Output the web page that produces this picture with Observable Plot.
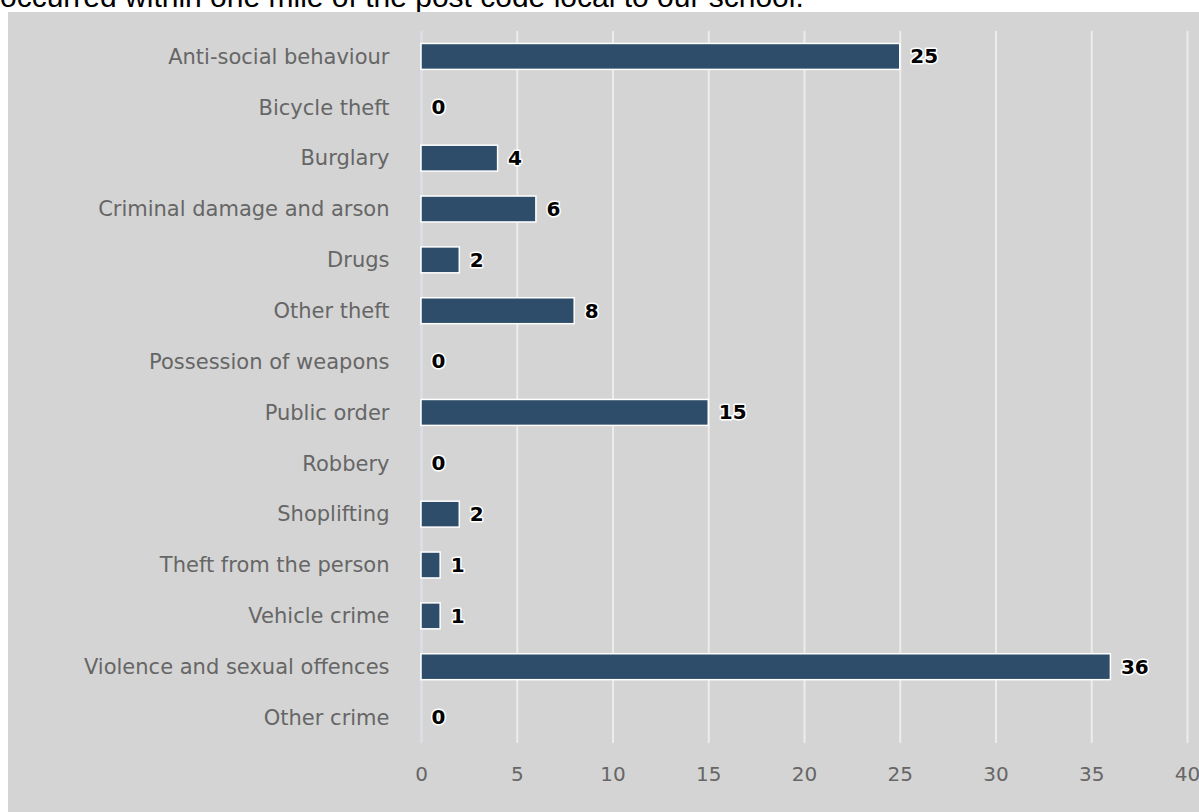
<!DOCTYPE html>
<html>
<head>
<meta charset="utf-8">
<script src="https://cdn.jsdelivr.net/npm/d3@7"></script>
<script src="https://cdn.jsdelivr.net/npm/@observablehq/plot@0.6"></script>
<style>
  html, body { margin: 0; padding: 0; background: #ffffff; overflow: hidden; }
  #title { position: absolute; left: 0; top: -18px; font-family: "Liberation Sans", sans-serif; font-size: 30px; line-height: 30px; color: #000; white-space: nowrap; }
  #panel { position: absolute; left: 8px; top: 12px; width: 1191px; height: 800px; background: #d4d4d4; }
</style>
</head>
<body>
<div id="title">occurred within one mile of the post code local to our school.</div>
<div id="panel"></div>
<script>
const categories = [
  "Anti-social behaviour",
  "Bicycle theft",
  "Burglary",
  "Criminal damage and arson",
  "Drugs",
  "Other theft",
  "Possession of weapons",
  "Public order",
  "Robbery",
  "Shoplifting",
  "Theft from the person",
  "Vehicle crime",
  "Violence and sexual offences",
  "Other crime"
];
const counts = [25, 0, 4, 6, 2, 8, 0, 15, 0, 2, 1, 1, 36, 0];
const xTicks = [0, 5, 10, 15, 20, 25, 30, 35, 40];

const data = categories.map((c, i) => ({category: c, count: counts[i]}));

const chart = Plot.plot({
  width: 1191,
  height: 800,
  marginLeft: 413,
  marginRight: 12,
  marginTop: 19,
  marginBottom: 69,
  style: {background: "transparent", fontFamily: "DejaVu Sans, sans-serif", fontSize: "20px", color: "#666"},
  x: {domain: [0, 40], ticks: xTicks, label: null},
  y: {domain: categories, paddingInner: 0.49, paddingOuter: 0.245, round: false, label: null},
  marks: [
    Plot.ruleX(xTicks.filter(d => d > 0), {stroke: "#ececec", strokeWidth: 2}),
    Plot.ruleX([0], {stroke: "#dadde3", strokeWidth: 3}),
    Plot.axisX({ticks: xTicks, tickSize: 0, tickPadding: 23, fontSize: 20, fill: "#666", label: null}),
    Plot.axisY({tickSize: 0, tickPadding: 32, fontSize: 21, fill: "#666", label: null}),
    Plot.barX(data, {x: "count", y: "category", fill: "#2d4d6a", stroke: "#ffffff", strokeWidth: 1.5, filter: d => d.count > 0}),
    Plot.text(data, {x: "count", y: "category", text: d => String(d.count), textAnchor: "start", dx: 10, fontWeight: "bold", fontSize: 20, fill: "#000", stroke: "#ffffff", strokeWidth: 3, paintOrder: "stroke"})
  ]
});
document.getElementById("panel").appendChild(chart);
</script>
</body>
</html>
